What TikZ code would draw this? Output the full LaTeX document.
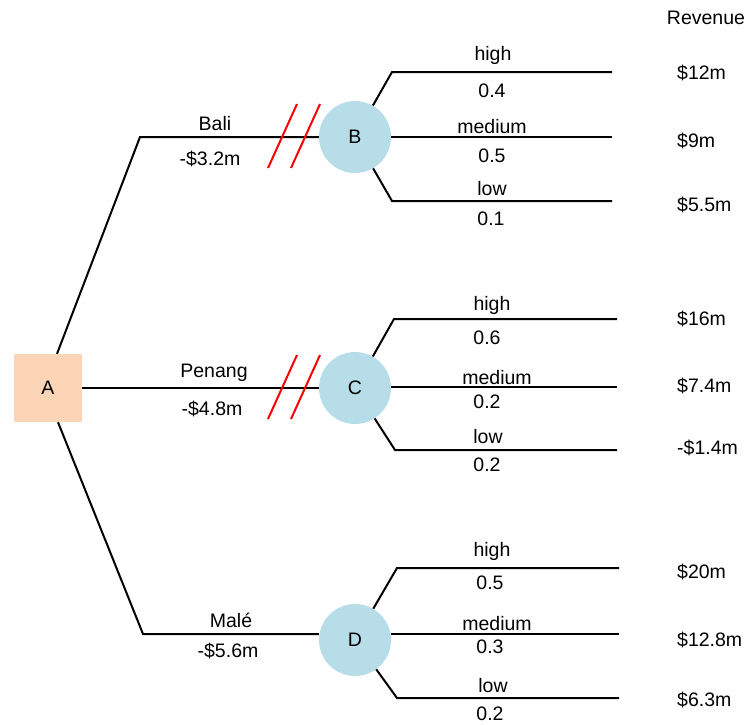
\documentclass[tikz,border=0pt]{standalone}
\usepackage{fontspec}
\setmainfont{Liberation Sans}
\usepackage{tikz}
\usetikzlibrary{calc, positioning}
\definecolor{peach}{HTML}{FBD5B5}
\definecolor{chance}{HTML}{B7DEE8}

\begin{document}
\begin{tikzpicture}[x=1pt, y=-1pt, font=\fontsize{19.5}{23}\selectfont]
    \tikzstyle{decision} = [rectangle, fill=peach, minimum size=68pt, inner sep=0pt]
    \tikzstyle{chancenode} = [circle, fill=chance, minimum size=72pt, inner sep=0pt]
    \tikzstyle{branch} = [line width=2pt]
    \tikzstyle{cutmark} = [red, line width=2pt]
    \tikzstyle{lbl} = [inner sep=0pt, text height=14pt, text depth=0pt]
    \tikzstyle{payoff} = [lbl, anchor=west]

    \useasboundingbox (0,0) rectangle (748,724);

    \node[decision] (A) at (48,388) {A};
    \node[chancenode] (B) at (355,137) {B};
    \node[chancenode] (C) at (355,388) {C};
    \node[chancenode] (D) at (355,640) {D};

    % destinations
    \coordinate (bali) at (140,137);
    \coordinate (male) at (143,634);
    \draw[branch] ([xshift=9pt]A.north) -- (bali) -- (B);
    \draw[branch] (A) -- (C);
    \draw[branch] ([xshift=10pt]A.south) -- (male) -- (male -| D.west);

    \foreach \n in {B, C}
        \foreach \dx in {0, 23}
            \draw[cutmark] ($(\n)+(-87+\dx,31)$) -- ++(29,-64);

    \node[lbl] (bali name) at (215,123) {Bali};
    \node[lbl] (bali cost) at (210,158) {-\$3.2m};
    \node[lbl] (penang name) at (214,370) {Penang};
    \node[lbl] (penang cost) at (212,408) {-\$4.8m};
    \node[lbl] (male name) at (231,620) {Malé};
    \node[lbl] (male cost) at (228,650) {-\$5.6m};

    % outcomes
    \coordinate (Bh) at (392,72);  \coordinate (Bhe) at (612,72);
    \coordinate (Bme) at (612,137);
    \coordinate (Bl) at (392,201); \coordinate (Ble) at (612,201);
    \coordinate (Ch) at (394,319); \coordinate (Che) at (617,319);
    \coordinate (Cme) at (617,387);
    \coordinate (Cl) at (395,450); \coordinate (Cle) at (617,450);
    \coordinate (Dh) at (397,568); \coordinate (Dhe) at (619,568);
    \coordinate (Dme) at (619,634);
    \coordinate (Dl) at (397,698); \coordinate (Dle) at (619,698);

    \draw[branch] (B) -- (Bh) -- (Bhe);
    \draw[branch] (B.east |- Bme) -- (Bme);
    \draw[branch] (B) -- (Bl) -- (Ble);
    \draw[branch] (C) -- (Ch) -- (Che);
    \draw[branch] (C.east |- Cme) -- (Cme);
    \draw[branch] (C) -- (Cl) -- (Cle);
    \draw[branch] (D) -- (Dh) -- (Dhe);
    \draw[branch] (D.east |- Dme) -- (Dme);
    \draw[branch] (D) -- (Dl) -- (Dle);

    \node[lbl] (Bhigh) at (493,53) {high};
    \node[lbl] (Bp1) at (492,90) {0.4};
    \node[lbl] (Bmed) at (492,126) {medium};
    \node[lbl] (Bp2) at (492,155) {0.5};
    \node[lbl] (Blow) at (492,188) {low};
    \node[lbl] (Bp3) at (491,218) {0.1};

    \node[lbl] (Chigh) at (492,303) {high};
    \node[lbl] (Cp1) at (487,337) {0.6};
    \node[lbl] (Cmed) at (497,377) {medium};
    \node[lbl] (Cp2) at (487,401) {0.2};
    \node[lbl] (Clow) at (488,436) {low};
    \node[lbl] (Cp3) at (487,464) {0.2};

    \node[lbl] (Dhigh) at (492,549) {high};
    \node[lbl] (Dp1) at (490,582) {0.5};
    \node[lbl] (Dmed) at (497,623) {medium};
    \node[lbl] (Dp2) at (490,646) {0.3};
    \node[lbl] (Dlow) at (493,685) {low};
    \node[lbl] (Dp3) at (490,713) {0.2};

    % revenue column
    \node[lbl] (revenue) at (706,17) {Revenue};
    \node[payoff] (r1) at (677,72) {\$12m};
    \node[payoff] (r2) at (677,140) {\$9m};
    \node[payoff] (r3) at (677,204) {\$5.5m};
    \node[payoff] (r4) at (677,318) {\$16m};
    \node[payoff] (r5) at (677,385) {\$7.4m};
    \node[payoff] (r6) at (677,447) {-\$1.4m};
    \node[payoff] (r7) at (677,571) {\$20m};
    \node[payoff] (r8) at (677,639) {\$12.8m};
    \node[payoff] (r9) at (677,699) {\$6.3m};
\end{tikzpicture}
\end{document}
